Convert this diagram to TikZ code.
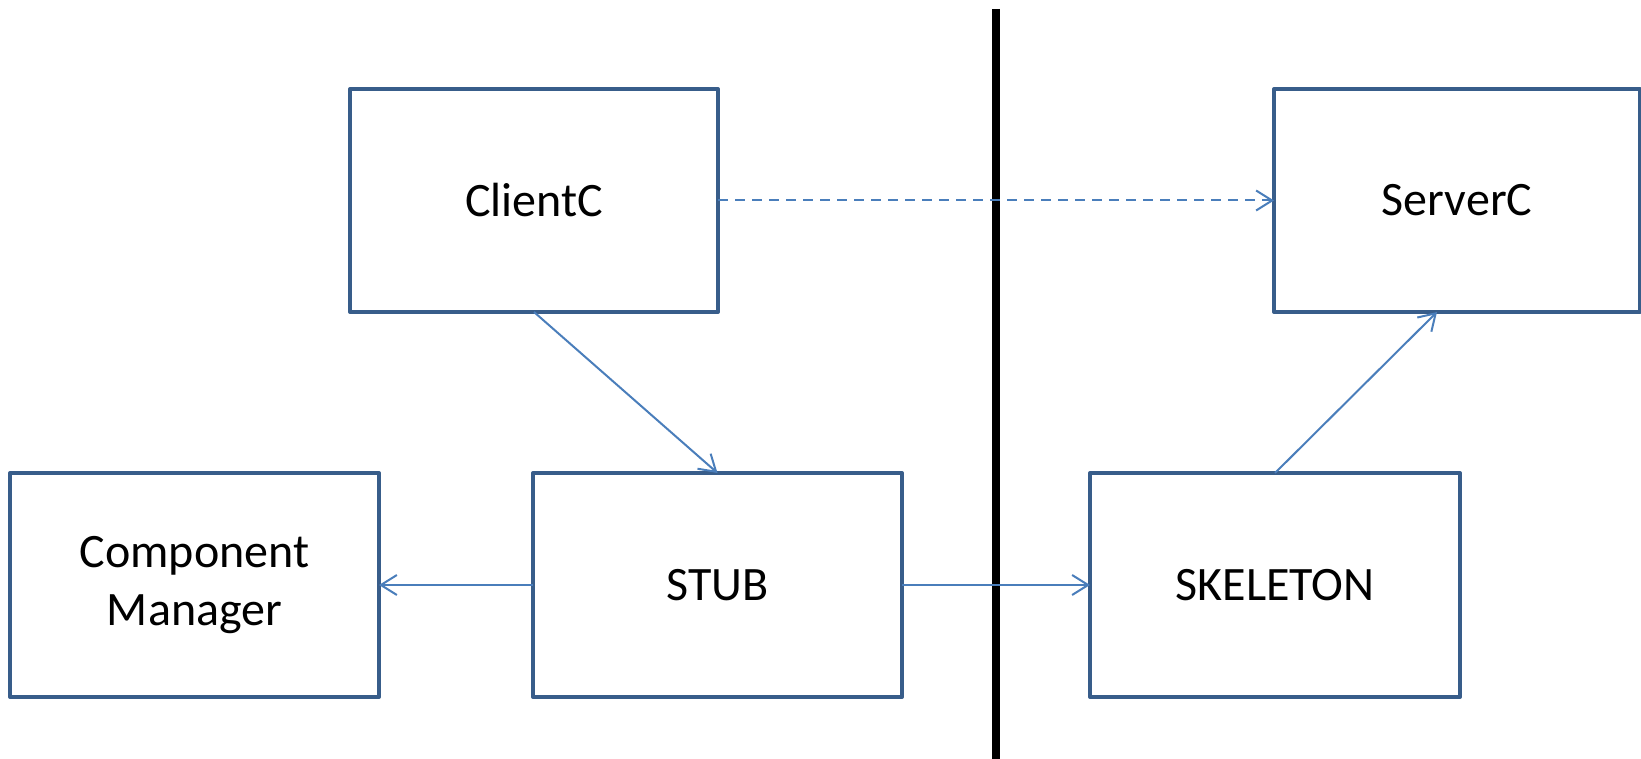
\documentclass[tikz,border=0pt]{standalone}
\usepackage{fontspec}
\setmainfont{Carlito}
\usetikzlibrary{arrows.meta}
\definecolor{boxline}{HTML}{385D8A}
\definecolor{linkline}{HTML}{4A7EBB}
\tikzset{
  block/.style={draw=boxline, line width=4pt, fill=white, inner sep=0pt, outer sep=0pt,
    align=center, font=\fontsize{48}{58}\selectfont, line join=round},
  link/.style={draw=linkline, line width=2pt,
    -{Straight Barb[length=16pt,width=20pt,line width=2pt]}},
  divider/.style={line width=8pt, black}
}
\begin{document}
\begin{tikzpicture}[x=1pt,y=-1pt]
  \useasboundingbox (0,0) rectangle (1641,759);
  % process boundary
  \coordinate (top) at (996,9);
  \coordinate (bottom) at (996,759);
  \draw[divider] (top) -- (bottom);
  % components
  \node[block, minimum width=368pt, minimum height=223pt] (client) at (534,200.5) {ClientC};
  \node[block, minimum width=366pt, minimum height=223pt] (server) at (1457,200.5) {ServerC};
  \node[block, minimum width=369pt, minimum height=224pt] (manager) at (194.5,585) {Component\\Manager};
  \node[block, minimum width=369pt, minimum height=224pt] (stub) at (717.5,585) {STUB};
  \node[block, minimum width=370pt, minimum height=224pt] (skeleton) at (1275,585) {SKELETON};
  % links
  \coordinate (serverin) at (1437,312);
  \draw[link, dash pattern=on 10pt off 7pt] (client.east) -- (server.west);
  \draw[link] (client.south) -- (stub.north);
  \draw[link] (stub.west) -- (manager.east);
  \draw[link] (stub.east) -- (skeleton.west);
  \draw[link] (skeleton.north) -- (serverin);
\end{tikzpicture}
\end{document}
